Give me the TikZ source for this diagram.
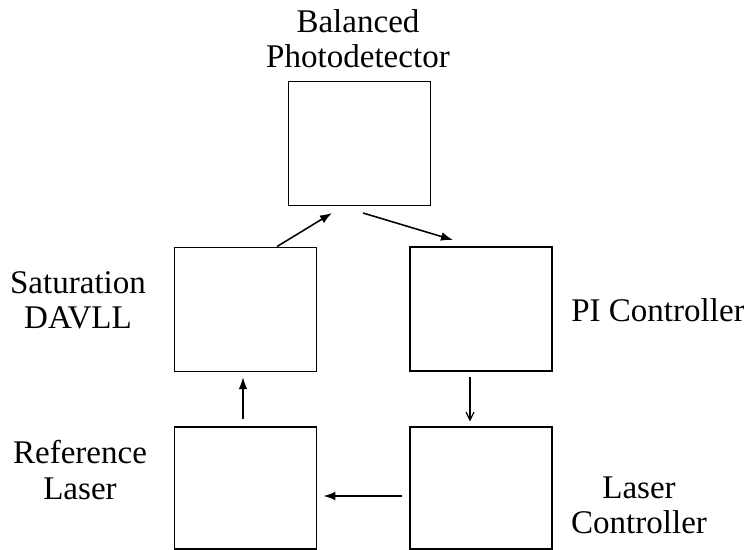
\documentclass[tikz,border=0pt]{standalone}
\usepackage{fontspec}
\setmainfont{Liberation Serif}
\usetikzlibrary{arrows.meta}
\begin{document}
\begin{tikzpicture}
    [
    x=0.025cm,y=-0.025cm,
    block/.style={rectangle,draw,line width=1.3pt,inner sep=0pt,minimum width=3.55cm,minimum height=3.1cm},
    blocktext/.style={align=center,font=\fontsize{23.5}{25}\selectfont},
    flow/.style={line width=1.1pt,-{Latex[length=3mm,width=2.2mm]}},
    thinflow/.style={line width=0.8pt,-{Straight Barb[length=2mm,width=2mm]}}
    ]
    \useasboundingbox (0,0) rectangle (744,550);
    \node (pd) at (359.5,143.5) [block] {};
    \node (sat) at (245.5,309.5) [block] {};
    \node (pi) at (481,309) [block] {};
    \node (ref) at (245.5,488) [block,minimum height=3.05cm] {};
    \node (lc) at (481,488) [block,minimum height=3.05cm] {};
    \node (pdlabel) at (358,39) [blocktext] {Balanced\\Photodetector};
    \node (satlabel) at (78,300) [blocktext] {Saturation\\DAVLL};
    \node (pilabel) at (658,310) [blocktext] {PI Controller};
    \node (reflabel) at (80,470) [blocktext] {Reference\\Laser};
    \node (lclabel) at (639,505) [blocktext] {Laser\\Controller};
    \coordinate (pdin) at (332,213);
    \coordinate (pdout) at (363,213);
    \coordinate (piin) at (453,240);
    \draw [flow] (sat.north -| 277,0) to (pdin);
    \draw [flow] (pdout) to (piin);
    \draw [thinflow] ([yshift=-0.12cm]pi.south -| 470,0) to ([yshift=0.12cm]lc.north -| 470,0);
    \draw [flow] ([yshift=0.18cm]ref.north -| 243,0) to ([yshift=-0.12cm]sat.south -| 243,0);
    \draw [flow] ([xshift=-0.18cm]lc.west |- 0,496) to ([xshift=0.15cm]ref.east |- 0,496);
  \end{tikzpicture}
\end{document}
